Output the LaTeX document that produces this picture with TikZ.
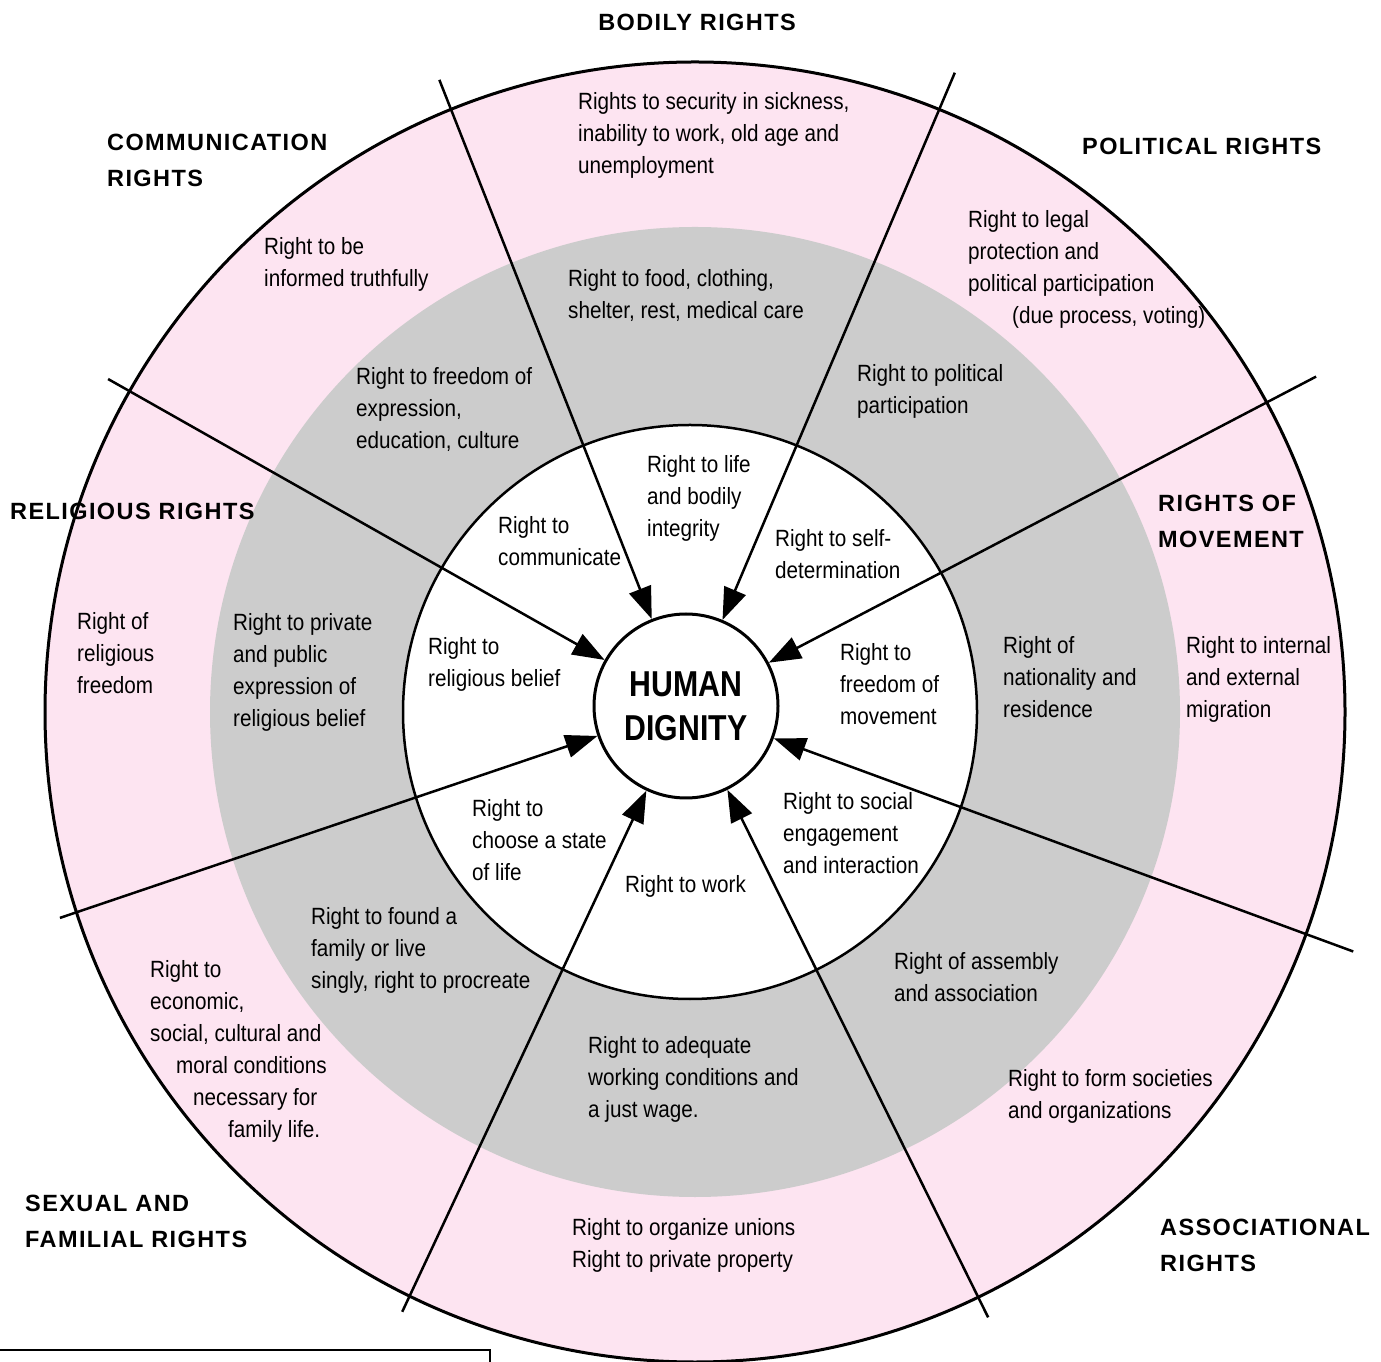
\documentclass[tikz,border=0pt]{standalone}
\usepackage{fontspec}
\newfontfamily\bodyfont{Liberation Sans}[FakeStretch=0.88]
\newfontfamily\titlefont{Liberation Sans}[LetterSpace=6]
\newfontfamily\hdfont{Liberation Sans}[FakeStretch=0.84]
\usetikzlibrary{arrows.meta}
\definecolor{ringpink}{RGB}{253,228,241}
\definecolor{ringgray}{RGB}{204,204,204}

\begin{document}
\begin{tikzpicture}[x = 1pt, y = 1pt,
	txt/.style = {anchor = north west, align = left, inner sep = 0pt, font = \bodyfont\fontsize{23.5}{32}\selectfont},
	ttl/.style = {anchor = north west, align = left, inner sep = 0pt, font = \titlefont\bfseries\fontsize{23.5}{36}\selectfont},
	spoke/.style = {line width = 2.5pt, -{Triangle[length = 32pt, width = 23pt]}}]
	\useasboundingbox (0,0) rectangle (1381,1361);
	% rings
	\coordinate (o) at (695,649);
	\coordinate (w) at (690,649);
	\draw[line width = 3pt, fill = ringpink] (o) circle[radius = 650pt];
	\fill[ringgray] (o) circle[radius = 485pt];
	\draw[line width = 2.5pt, fill = white] (w) circle[radius = 287pt];
	\node[circle, draw, line width = 3pt, fill = white, minimum size = 184pt, inner sep = 0pt, align = center, font = \hdfont\bfseries\fontsize{36}{44}\selectfont] (hd) at (686,655) {HUMAN\\DIGNITY};
	% spokes
	\foreach \ang/\len [count = \i] in {111.5/673, 67/688, 27.6/711, -20.2/711, -63.7/682, 244.9/669, 198.7/661, 150.5/664} {
		\path (hd.center) ++(\ang:\len) coordinate (s\i);
		\draw[spoke] (s\i) -- (hd);
	}
	% titles
	\node[ttl, anchor = north] (bodily) at (697,1347.5) {BODILY\ RIGHTS};
	\node[ttl] (commt) at (107,1227.5) {COMMUNICATION\\RIGHTS};
	\node[ttl] (polt) at (1082,1223.5) {POLITICAL\ RIGHTS};
	\node[ttl] (relt) at (10,858.5) {RELIGIOUS\ RIGHTS};
	\node[ttl] (movt) at (1158,866.5) {RIGHTS\ OF\\MOVEMENT};
	\node[ttl] (famt) at (25,166.5) {SEXUAL\ AND\\FAMILIAL\ RIGHTS};
	\node[ttl] (asst) at (1160,142.5) {ASSOCIATIONAL\\RIGHTS};
	% outer ring
	\node[txt] (sick) at (578,1269) {Rights to security in sickness,\\inability to work, old age and\\unemployment};
	\node[txt] (inform) at (264,1124) {Right to be\\informed truthfully};
	\node[txt] (legal) at (968,1151) {Right to legal\\protection and\\political participation\\\hspace*{44pt}(due process, voting)};
	\node[txt] (relfree) at (77,749) {Right of\\religious\\freedom};
	\node[txt] (migr) at (1186,725) {Right to internal\\and external\\migration};
	\node[txt] (famlife) at (150,401) {Right to\\economic,\\social, cultural and\\\hspace*{26pt}moral conditions\\\hspace*{43pt}necessary for\\\hspace*{78pt}family life.};
	\node[txt] (societies) at (1008,292) {Right to form societies\\and organizations};
	\node[txt] (unions) at (572,143) {Right to organize unions\\Right to private property};
	% gray ring
	\node[txt] (food) at (568,1092) {Right to food, clothing,\\shelter, rest, medical care};
	\node[txt] (expr) at (356,994) {Right to freedom of\\expression,\\education, culture};
	\node[txt] (polpart) at (857,997) {Right to political\\participation};
	\node[txt] (private) at (233,748) {Right to private\\and public\\expression of\\religious belief};
	\node[txt] (nation) at (1003,725) {Right of\\nationality and\\residence};
	\node[txt] (found) at (311,454) {Right to found a\\family or live\\singly, right to procreate};
	\node[txt] (assembly) at (894,409) {Right of assembly\\and association};
	\node[txt] (wage) at (588,325) {Right to adequate\\working conditions and\\a just wage.};
	% white ring
	\node[txt] (life) at (647,906) {Right to life\\and bodily\\integrity};
	\node[txt] (comm) at (498,845) {Right to\\communicate};
	\node[txt] (selfdet) at (775,832) {Right to self-\\determination};
	\node[txt] (relbel) at (428,724) {Right to\\religious belief};
	\node[txt] (movem) at (840,718) {Right to\\freedom of\\movement};
	\node[txt] (state) at (472,562) {Right to\\choose a state\\of life};
	\node[txt] (work) at (625,486) {Right to work};
	\node[txt] (social) at (783,569) {Right to social\\engagement\\and interaction};
	% box at the foot
	\draw[line width = 2.5pt] (-10,11) -- (490,11) -- (490,-10);
\end{tikzpicture}
\end{document}
